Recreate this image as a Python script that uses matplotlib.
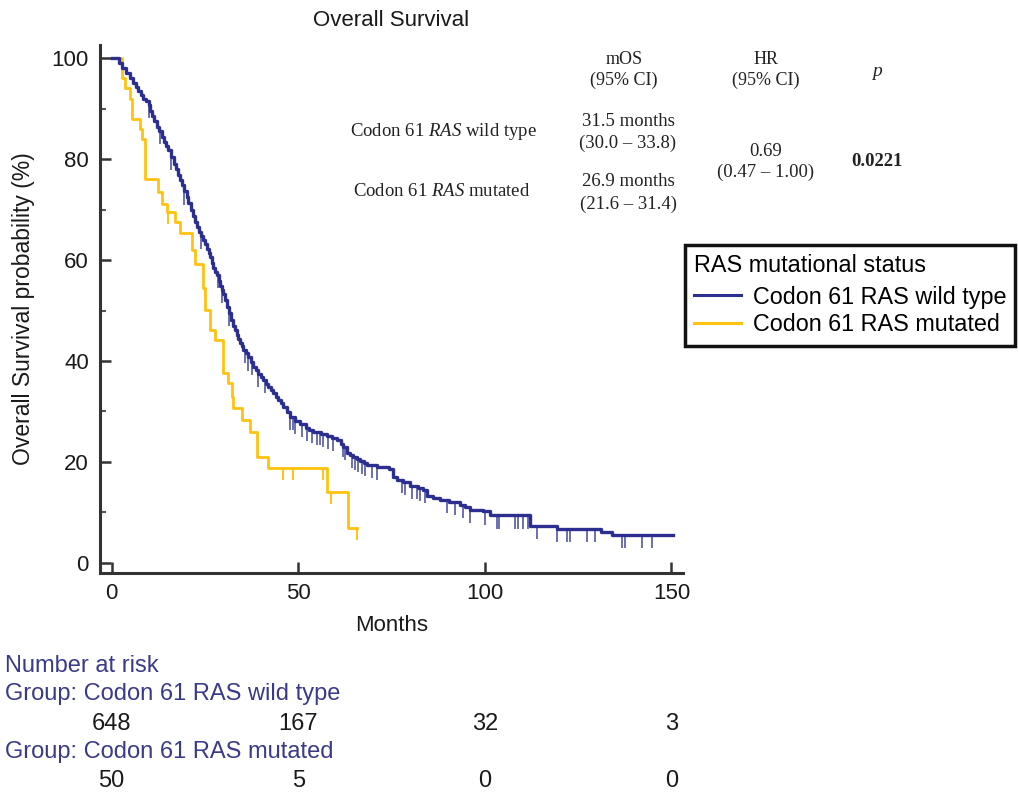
import numpy as np
import matplotlib.pyplot as plt
from matplotlib.lines import Line2D

plt.rcParams['font.family'] = ['Liberation Sans', 'DejaVu Sans']
plt.rcParams['mathtext.fontset'] = 'custom'
plt.rcParams['mathtext.rm'] = 'Liberation Serif'
plt.rcParams['mathtext.it'] = 'Liberation Serif:italic'
plt.rcParams['mathtext.bf'] = 'Liberation Serif:bold'

# Kaplan-Meier steps (months, survival %)
wt_time = [0, 2.0, 2.7, 4.0, 5.0, 5.8, 6.5, 7.2, 8.0, 8.5, 9.2, 9.9, 10.3, 10.8,
           11.5, 12.1, 12.7, 13.4, 14.0, 14.6, 15.2, 15.9, 16.6, 17.2, 17.8, 18.3,
           18.8, 19.5, 20.1, 20.6, 21.2, 21.8, 22.3, 22.8, 23.4, 24.0, 24.6, 25.0,
           25.5, 26.0, 26.4, 26.9, 27.3, 27.8, 28.2, 28.7, 29.1, 29.5, 29.9, 30.4,
           30.9, 31.5, 32.0, 32.6, 33.0, 33.5, 34.0, 34.4, 34.9, 35.3, 36.0, 36.6,
           37.3, 38.0, 38.6, 39.3, 40.0, 40.7, 41.3, 42.0, 42.7, 43.3, 44.0, 44.7,
           45.3, 46.0, 47.0, 47.8, 49.2, 50.5, 52.0, 53.0, 54.1, 56.0, 57.6, 59.0,
           60.3, 61.5, 62.1, 63.0, 64.0, 64.8, 65.7, 66.6, 67.5, 68.4, 71.0, 74.2,
           75.5, 76.4, 78.0, 80.0, 82.0, 83.5, 84.4, 86.0, 88.0, 90.5, 93.4, 94.8,
           96.0, 99.6, 101.4, 112.1, 119.3, 131.0, 134.0, 150.5]
wt_surv = [100, 99, 98, 97, 96, 95, 94.2, 93.5, 92.6, 92, 91.5, 90.8, 89.6, 88.6,
           87.6, 86.4, 85.5, 84.4, 83.4, 82.6, 81.8, 80.4, 79.1, 78.0, 76.9, 75.8,
           74.9, 73.6, 72.5, 71.3, 70.0, 68.8, 67.6, 66.6, 65.6, 64.8, 64.0, 63.2,
           62.2, 61.4, 60.7, 59.5, 58.4, 57.6, 57.0, 55.8, 54.8, 54.0, 53.3, 52.0,
           50.6, 49.5, 48.2, 47.0, 46.1, 45.2, 44.4, 43.6, 42.9, 42.2, 41.5, 40.7,
           39.8, 38.9, 38.2, 37.5, 36.9, 36.2, 35.5, 34.9, 34.2, 33.6, 32.9, 32.2,
           31.6, 30.9, 29.8, 29.0, 28.1, 27.5, 26.8, 26.4, 26.0, 25.5, 25.2, 24.8,
           24.4, 23.6, 23.0, 21.8, 21.4, 21.0, 20.6, 20.2, 19.8, 19.4, 19.0, 18.6,
           17.0, 16.5, 16.0, 15.2, 14.8, 14.5, 13.3, 12.9, 12.5, 12.0, 11.5, 11.0,
           10.5, 10.2, 9.4, 7.4, 6.7, 6.2, 5.6, 5.6]
wt_censor = [10.0, 13.0, 16.0, 19.5, 24.0, 28.6, 29.6, 31.5, 35.8, 36.6, 37.6, 39.3,
             41.0, 47.8, 48.6, 49.2, 51.0, 52.3, 53.6, 55.0, 55.8, 56.7, 58.1, 59.4,
             62.0, 62.5, 64.3, 65.2, 66.1, 67.0, 67.9, 69.7, 71.0, 77.7, 78.6, 80.4,
             81.8, 82.6, 84.0, 89.8, 92.0, 94.2, 96.0, 100.1, 103.2, 103.8, 108.1,
             109.0, 110.3, 111.7, 113.9, 119.3, 121.9, 122.8, 127.3, 129.5, 136.7,
             137.6, 142.0, 144.7]

mut_time = [0, 2.7, 3.6, 5.0, 5.4, 7.6, 8.1, 9.0, 12.5, 13.4, 14.8, 17.0, 18.3,
            21.5, 22.4, 24.6, 25.0, 26.4, 27.7, 29.9, 31.2, 32.3, 32.5, 35.0, 37.1,
            39.0, 41.9, 57.7, 63.3, 65.8]
mut_surv = [100, 96, 94, 92, 88, 86, 84, 76, 73.5, 71.2, 69.6, 67.6, 65.3,
            62.0, 59.3, 54.5, 50.1, 46.1, 44.2, 37.6, 35.6, 32.9, 30.7, 28.3, 25.9,
            21.0, 18.8, 14.1, 7.0, 7.0]
mut_censor = [15.2, 45.9, 48.6, 56.6, 58.8, 65.8]

risk_months = [0, 50, 100, 150]
risk_wt = [648, 167, 32, 3]
risk_mut = [50, 5, 0, 0]

blue = '#2b2f8f'
gold = '#ffc20e'
W, H = 1020, 796


def surv_at(times, surv, t):
    idx = np.searchsorted(times, t, side='right') - 1
    return np.asarray(surv)[idx]


fig = plt.figure(figsize=(W / 100, H / 100), dpi=100)
ax = fig.add_axes([100 / W, 1 - 573 / H, 583 / W, 528 / H])

ax.step(mut_time, mut_surv, where='post', color=gold, lw=2.0, zorder=3)
cs = surv_at(mut_time, mut_surv, mut_censor)
ax.vlines(mut_censor, cs - 2.4, cs, color=gold, lw=1.4, zorder=3)

ax.step(wt_time, wt_surv, where='post', color=blue, lw=2.4, zorder=4)
cs = surv_at(wt_time, wt_surv, wt_censor)
ax.vlines(wt_censor, cs - 2.6, cs, color=blue, lw=1.3, alpha=0.75, zorder=4)

ax.set_xlim(-3.1, 153.1)
ax.set_ylim(-2, 102.6)
ax.set_xticks([0, 50, 100, 150])
ax.set_yticks([0, 20, 40, 60, 80, 100])
ax.set_yticks([10, 30, 50, 70, 90], minor=True)
for s in ['top', 'right']:
    ax.spines[s].set_visible(False)
for s in ['left', 'bottom']:
    ax.spines[s].set_linewidth(2.2)
    ax.spines[s].set_color('#333333')
ax.tick_params(direction='in', length=8, width=1.8, color='#333333',
               labelsize=16, labelcolor='#1a1a1a')
ax.tick_params(axis='y', pad=8)
ax.tick_params(axis='x', pad=7)
ax.tick_params(which='minor', direction='in', length=4, width=1.5, color='#555555')

ax.set_title('Overall Survival', fontsize=16, color='#1a1a1a', pad=14)
ax.set_xlabel('Months', fontsize=16, color='#1a1a1a', labelpad=8)
ax.set_ylabel('Overall Survival probability (%)', fontsize=16.5, color='#1a1a1a', labelpad=12)

handles = [Line2D([], [], color=blue, lw=2.2), Line2D([], [], color=gold, lw=2.2)]
leg = ax.legend(handles, ['Codon 61 RAS wild type', 'Codon 61 RAS mutated'],
                title='RAS mutational status', loc='upper left',
                bbox_to_anchor=(685 / W, 1 - 245 / H), bbox_transform=fig.transFigure,
                borderaxespad=0, fancybox=False, edgecolor='#111111', fontsize=16.8,
                title_fontsize=16.8, alignment='left', handlelength=2.0,
                handletextpad=0.5, labelspacing=0.2, borderpad=0.4, framealpha=1)
leg.get_frame().set_linewidth(2.5)
leg._legend_box.sep = 6

# summary table (serif)
serif = dict(family='Liberation Serif', ha='center', va='center', color='#222222')
table = [
    (624, 60, 'mOS', 13), (624, 80, '(95% CI)', 13),
    (766, 60, 'HR', 13), (766, 80, '(95% CI)', 13),
    (443, 131, r'Codon 61 $\mathit{RAS}$ wild type', 13.5),
    (442, 192, r'Codon 61 $\mathit{RAS}$ mutated', 13.5),
    (628, 121, '31.5 months', 13.5), (628, 143, '(30.0 – 33.8)', 13.5),
    (628, 182, '26.9 months', 13.5), (628, 204, '(21.6 – 31.4)', 13.5),
    (766, 151, '0.69', 13.5), (766, 172, '(0.47 – 1.00)', 13.5),
]
for x, y, s, fs in table:
    fig.text(x / W, 1 - y / H, s, fontsize=fs, **serif)
fig.text(877 / W, 1 - 73 / H, r'$\mathit{p}$', fontsize=14, **serif)
fig.text(877 / W, 1 - 161 / H, '0.0221', fontsize=13.5, fontweight='bold', **serif)

# number at risk
navy = '#3a3a8a'
fig.text(5 / W, 1 - 666 / H, 'Number at risk', fontsize=17, color=navy, va='center')
fig.text(5 / W, 1 - 694 / H, 'Group: Codon 61 RAS wild type', fontsize=17, color=navy, va='center')
fig.text(5 / W, 1 - 752 / H, 'Group: Codon 61 RAS mutated', fontsize=17, color=navy, va='center')
for m, a, b in zip(risk_months, risk_wt, risk_mut):
    xf = fig.transFigure.inverted().transform(ax.transData.transform((m, 0)))[0]
    fig.text(xf, 1 - 724 / H, str(a), fontsize=17, color='#1a1a1a', ha='center', va='center')
    fig.text(xf, 1 - 781 / H, str(b), fontsize=17, color='#1a1a1a', ha='center', va='center')

fig.savefig('out.png', dpi=100)
